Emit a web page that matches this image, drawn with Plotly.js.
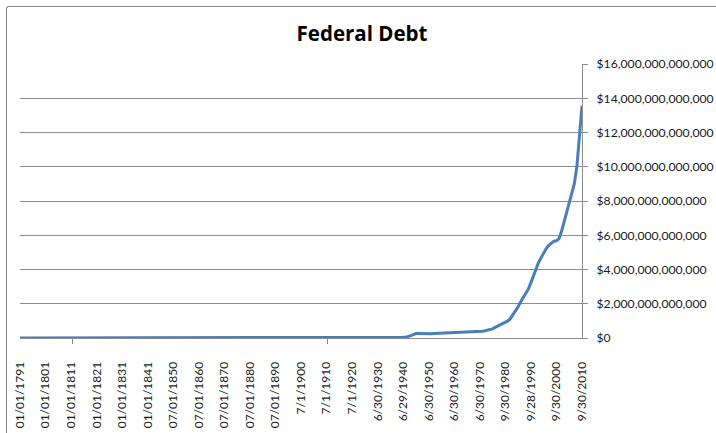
<!DOCTYPE html>
<html>
<head>
<meta charset="utf-8">
<script src="https://cdn.plot.ly/plotly-3.0.1.min.js"></script>
<style>
  html, body { margin: 0; padding: 0; background: #fff; }
  #wrap { position: relative; width: 716px; height: 433px; overflow: hidden; }
  #chart { width: 716px; height: 433px; }
  #frame { position: absolute; left: 6px; top: 6px; width: 720px; height: 440px;
           border-top: 1px solid #8a8a8a; border-left: 1px solid #8a8a8a;
           border-top-left-radius: 3px; pointer-events: none; }
</style>
</head>
<body>
<div id="wrap">
  <div id="chart"></div>
  <div id="frame"></div>
</div>
<script>
// Category tick labels (every 10th observation)
const tickLabels = [
  "01/01/1791","01/01/1801","01/01/1811","01/01/1821","01/01/1831","01/01/1841",
  "07/01/1850","07/01/1860","07/01/1870","07/01/1880","07/01/1890",
  "7/1/1900","7/1/1910","7/1/1920","6/30/1930","6/29/1940","6/30/1950",
  "6/30/1960","6/30/1970","9/30/1980","9/28/1990","9/30/2000","9/30/2010"
];

// Federal debt outstanding, billions of dollars, one value per observation
// (1791 ... 1843 Jan, 1843 Jul ... 2010)
const debtBillions = [
  // 1791-1800
  0.0755,0.0772,0.0804,0.0784,0.0808,0.0838,0.0821,0.0792,0.0784,0.0830,
  // 1801-1810
  0.0830,0.0807,0.0771,0.0864,0.0823,0.0757,0.0692,0.0652,0.0570,0.0532,
  // 1811-1820
  0.0480,0.0452,0.0560,0.0815,0.0998,0.1273,0.1235,0.1035,0.0955,0.0910,
  // 1821-1830
  0.0900,0.0936,0.0909,0.0903,0.0838,0.0811,0.0740,0.0675,0.0584,0.0486,
  // 1831-1840
  0.0391,0.0243,0.0070,0.0048,0.00004,0.0003,0.0003,0.0033,0.0104,0.0036,
  // 1841, 1842, 1843 Jan, 1843 Jul, 1844-1849
  0.0053,0.0136,0.0206,0.0327,0.0235,0.0159,0.0156,0.0388,0.0470,0.0631,
  // 1850-1859
  0.0635,0.0683,0.0662,0.0598,0.0422,0.0356,0.0320,0.0287,0.0449,0.0585,
  // 1860-1869
  0.0648,0.0906,0.5242,1.1198,1.8158,2.6779,2.7558,2.6502,2.5834,2.5451,
  // 1870-1879
  2.4365,2.3221,2.2099,2.1512,2.1599,2.1563,2.1308,2.1078,2.1594,2.2989,
  // 1880-1889
  2.0909,2.0193,1.8569,1.7219,1.6253,1.5786,1.5560,1.4655,1.3846,1.2495,
  // 1890-1899
  1.1224,1.0058,0.9682,0.9614,1.0169,1.0970,1.2227,1.2268,1.2327,1.4367,
  // 1900-1909
  1.2634,1.2216,1.1780,1.1594,1.1363,1.1324,1.1425,1.1472,1.1777,1.1483,
  // 1910-1919
  1.1469,1.1540,1.1938,1.1930,1.1882,1.1913,1.2251,2.9756,12.4552,25.4845,
  // 1920-1929
  24.2993,23.9775,22.9634,22.3500,21.2510,20.5160,19.6430,18.5120,17.6040,16.9310,
  // 1930-1939
  16.1850,16.8010,19.4870,22.5390,27.0530,28.7010,33.7790,36.4250,37.1650,40.4400,
  // 1940-1949
  42.968,48.961,72.422,136.696,201.003,258.682,269.422,258.286,252.292,252.770,
  // 1950-1959
  257.357,255.222,259.105,266.071,271.260,274.374,272.751,270.527,276.343,284.706,
  // 1960-1969
  286.331,288.971,298.201,305.860,311.713,317.274,319.907,326.221,347.578,353.720,
  // 1970-1979
  370.919,398.130,427.260,458.142,475.060,533.189,620.433,698.840,771.544,826.519,
  // 1980-1989
  907.701,997.855,1142.034,1377.210,1572.266,1823.103,2125.302,2350.277,2602.338,2857.431,
  // 1990-1999
  3233.313,3665.303,4064.621,4411.489,4692.750,4973.983,5224.811,5413.146,5526.193,5656.271,
  // 2000-2010
  5674.178,5807.463,6228.236,6783.231,7379.053,7932.710,8506.974,9007.654,10024.725,11909.829,13561.623
];

const debt = debtBillions.map(v => v * 1e9);
const labelStep = 10;
const tickIdx = tickLabels.map((_, i) => i * labelStep);

const gridGrey = '#8c8c8c';
const fontFam = 'Lato, "Liberation Sans", sans-serif';

const trace = {
  y: debt,
  type: 'scatter',
  mode: 'lines',
  line: { color: '#4a7ebb', width: 3 },
  cliponaxis: false,
  hoverinfo: 'skip'
};

const layout = {
  width: 716, height: 433,
  margin: { l: 20, r: 134, t: 64, b: 95 },
  paper_bgcolor: '#ffffff',
  plot_bgcolor: '#ffffff',
  showlegend: false,
  title: {
    text: 'Federal Debt',
    font: { family: '"Open Sans", Lato, sans-serif', size: 20.5, color: '#000000', weight: 'bold' },
    xref: 'container', x: 0.5056,
    yref: 'container', y: 0.922, yanchor: 'middle', xanchor: 'center'
  },
  xaxis: {
    range: [0, debt.length - 1],
    tickmode: 'array',
    tickvals: tickIdx,
    ticktext: tickLabels,
    tickangle: -90,
    ticks: '',
    ticklabelstandoff: 18,
    tickfont: { family: fontFam, size: 12, color: '#1a1a1a' },
    showgrid: false,
    zeroline: false,
    showline: true,
    linecolor: gridGrey,
    linewidth: 1,
    minor: { tick0: 20.5, dtick: 100, ticks: 'outside', ticklen: 5, tickcolor: gridGrey, showgrid: false }
  },
  yaxis: {
    side: 'right',
    range: [0, 16e12],
    dtick: 2e12,
    tickformat: '$,.0f',
    tickprefix: '\u2002',
    ticks: 'outside',
    ticklen: 5,
    tickcolor: gridGrey,
    tickfont: { family: fontFam, size: 12.2, color: '#1a1a1a' },
    showgrid: true,
    gridcolor: gridGrey,
    gridwidth: 1,
    zeroline: false,
    showline: true,
    linecolor: gridGrey,
    linewidth: 1
  }
};

Plotly.newPlot('chart', [trace], layout, { staticPlot: true, displayModeBar: false });
</script>
</body>
</html>
